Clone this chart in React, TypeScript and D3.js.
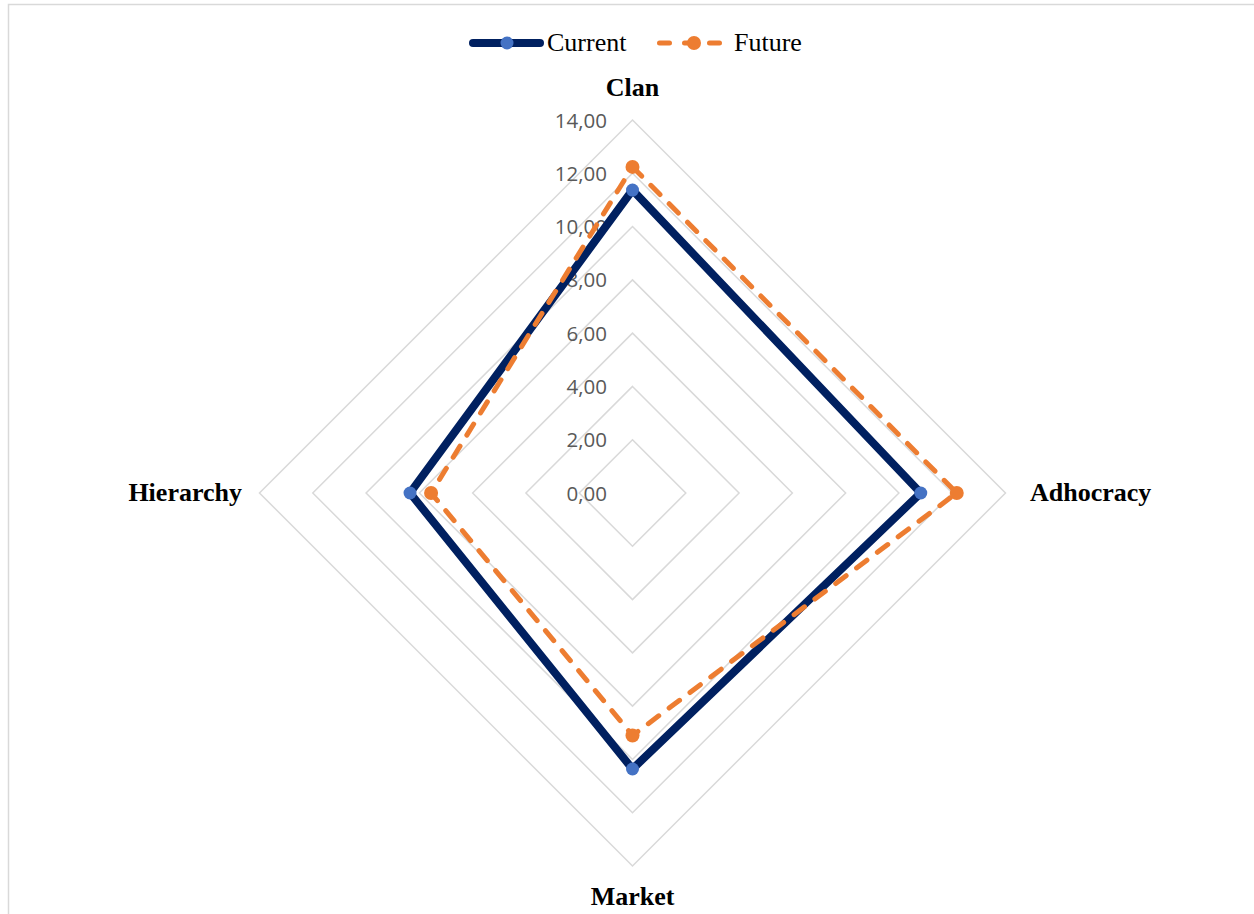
import React from "react";
import * as d3 from "d3";

const categories = ["Clan", "Adhocracy", "Market", "Hierarchy"];
const currentValues = [11.37, 10.82, 10.36, 8.35];
const futureValues = [12.24, 12.17, 9.1, 7.56];
const tickValues = [0, 2, 4, 6, 8, 10, 12, 14];
const seriesNames = ["Current", "Future"];

const W = 1254;
const H = 914;
const cx = 632.5;
const cy = 493;
const R = 373;

export default function App() {
  const r = d3.scaleLinear().domain([0, 14]).range([0, R]);
  const angle = d3
    .scalePoint<string>()
    .domain(categories)
    .range([0, (2 * Math.PI * (categories.length - 1)) / categories.length]);

  const radial = d3
    .lineRadial<number>()
    .angle((_, i) => angle(categories[i]) as number)
    .radius((d) => r(d))
    .curve(d3.curveLinearClosed);

  const pt = (v: number, i: number) => {
    const a = angle(categories[i]) as number;
    return [cx + r(v) * Math.sin(a), cy - r(v) * Math.cos(a)];
  };

  const fmt = (v: number) => v.toFixed(2).replace(".", ",");

  const navy = "#002060";
  const blue = "#4472C4";
  const orange = "#ED7D31";
  const grid = "#D9D9D9";

  const labelPos = [
    { x: cx, y: 96, anchor: "middle" },
    { x: 1030, y: 501, anchor: "start" },
    { x: cx, y: 905, anchor: "middle" },
    { x: 242, y: 501, anchor: "end" },
  ];

  return (
    <svg
      width={W}
      height={H}
      style={{ position: "absolute", left: 0, top: 0, background: "#fff" }}
    >
      <rect x={8.5} y={4.5} width={1300} height={1000} fill="#fff" stroke={grid} strokeWidth={1.5} />
      <g>
        {tickValues.map((t) => (
          <path
            key={"g" + t}
            d={radial(categories.map(() => t)) || ""}
            transform={`translate(${cx},${cy})`}
            fill="none"
            stroke={grid}
            strokeWidth={1.5}
          />
        ))}
      </g>
      <g fontFamily="'Open Sans', sans-serif" fontSize={20.5} fill="#595959">
        {tickValues.map((t) => (
          <text key={"t" + t} x={607} y={cy - r(t) + 7.5} textAnchor="end">
            {fmt(t)}
          </text>
        ))}
      </g>
      <path
        d={radial(currentValues) || ""}
        transform={`translate(${cx},${cy})`}
        fill="none"
        stroke={navy}
        strokeWidth={8}
        strokeLinejoin="miter"
      />
      {currentValues.map((v, i) => {
        const [x, y] = pt(v, i);
        return <circle key={"c" + i} cx={x} cy={y} r={6.5} fill={blue} />;
      })}
      <path
        d={radial(futureValues) || ""}
        transform={`translate(${cx},${cy})`}
        fill="none"
        stroke={orange}
        strokeWidth={5}
        strokeDasharray="13,13"
        strokeLinecap="round"
      />
      {futureValues.map((v, i) => {
        const [x, y] = pt(v, i);
        return <circle key={"f" + i} cx={x} cy={y} r={7} fill={orange} />;
      })}
      <g fontFamily="'Liberation Serif', 'Times New Roman', serif" fontWeight="bold" fontSize={26} fill="#000">
        {categories.map((c, i) => (
          <text key={c} x={labelPos[i].x} y={labelPos[i].y} textAnchor={labelPos[i].anchor}>
            {c}
          </text>
        ))}
      </g>
      <g fontFamily="'Liberation Serif', 'Times New Roman', serif" fontSize={26} fill="#000">
        <line x1={473} x2={540} y1={43} y2={43} stroke={navy} strokeWidth={8} strokeLinecap="round" />
        <circle cx={507} cy={43} r={6.5} fill={blue} />
        <text x={547} y={51}>{seriesNames[0]}</text>
        <line x1={659.5} x2={721} y1={43} y2={43} stroke={orange} strokeWidth={5} strokeLinecap="round" strokeDasharray="10,15" />
        <circle cx={694} cy={43} r={7} fill={orange} />
        <text x={734} y={51}>{seriesNames[1]}</text>
      </g>
    </svg>
  );
}
